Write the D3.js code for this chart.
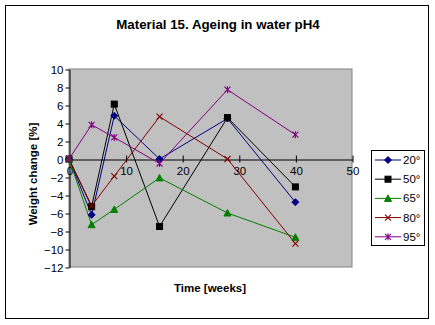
<!DOCTYPE html>
<html>
<head>
<meta charset="utf-8">
<script src="https://cdn.jsdelivr.net/npm/d3@7/dist/d3.min.js"></script>
<style>
  html, body { margin: 0; padding: 0; background: #fff; }
  svg { display: block; font-family: Arial, "Liberation Sans", sans-serif; }
</style>
</head>
<body>
<svg id="chart" width="435" height="325"></svg>
<script>
// Weeks of immersion
const weeks = [0, 4, 8, 16, 28, 40];

// Weight change [%] per ageing temperature
const series20 = [0, -6.2, 4.8, 0, 4.5, -4.8];
const series50 = [0, -5.3, 6.1, -7.5, 4.6, -3.1];
const series65 = [0, -7.3, -5.6, -2.1, -6.0, -8.7];
const series80 = [0, -5.2, -1.9, 4.7, 0, -9.4];
const series95 = [0, 3.8, 2.4, -0.5, 7.7, 2.7];

const seriesNames = ["20°", "50°", "65°", "80°", "95°"];
const xTicks = [0, 10, 20, 30, 40, 50];
const yTicks = [10, 8, 6, 4, 2, 0, -2, -4, -6, -8, -10, -12];

const seriesList = [
  { name: seriesNames[0], values: series20, color: "#000080", marker: "diamond" },
  { name: seriesNames[1], values: series50, color: "#000000", marker: "square" },
  { name: seriesNames[2], values: series65, color: "#008000", marker: "triangle" },
  { name: seriesNames[3], values: series80, color: "#800000", marker: "cross" },
  { name: seriesNames[4], values: series95, color: "#800080", marker: "star" }
];

const svg = d3.select("#chart");

// Chart frame
svg.append("rect")
  .attr("x", 5.5).attr("y", 5.5).attr("width", 423).attr("height", 313)
  .attr("fill", "#fff").attr("stroke", "#000").attr("stroke-width", 1);

svg.append("text")
  .attr("x", 218).attr("y", 29)
  .attr("text-anchor", "middle")
  .attr("font-size", 13.3).attr("font-weight", "bold")
  .text("Material 15. Ageing in water pH4");

const plot = { left: 69, right: 352, top: 69, bottom: 267 };

const x = d3.scaleLinear().domain([0, 50]).range([plot.left, plot.right]);
const y = d3.scaleLinear().domain([-12, 10]).range([plot.bottom, plot.top]);

// Plot area
svg.append("rect")
  .attr("x", plot.left).attr("y", plot.top)
  .attr("width", plot.right - plot.left).attr("height", plot.bottom - plot.top)
  .attr("fill", "#c0c0c0").attr("stroke", "#808080").attr("stroke-width", 1);

// Y axis on the left edge
const yAxis = d3.axisLeft(y).tickValues(yTicks).tickSize(4).tickPadding(2).tickSizeOuter(0);
const gy = svg.append("g")
  .attr("transform", `translate(${plot.left + 0.5},0.5)`)
  .call(yAxis);
gy.selectAll("text").attr("font-size", 11.5).attr("font-family", "Arial, 'Liberation Sans', sans-serif").attr("fill", "#000");
gy.selectAll("line, path").attr("stroke", "#000");

// X axis along the zero line, ticks crossing it
const xAxis = d3.axisBottom(x).tickValues(xTicks).tickSize(0).tickPadding(7).tickSizeOuter(0);
const gx = svg.append("g")
  .attr("transform", `translate(0.5,${y(0) + 0.5})`)
  .call(xAxis);
gx.select("path").attr("stroke", "#000");
gx.selectAll(".tick line").attr("y1", -4).attr("y2", 3).attr("stroke", "#000");
gx.selectAll("text").attr("font-size", 11.5).attr("font-family", "Arial, 'Liberation Sans', sans-serif").attr("fill", "#000");

// Axis titles
svg.append("text")
  .attr("transform", `translate(37,${(plot.top + plot.bottom) / 2 + 6}) rotate(-90)`)
  .attr("text-anchor", "middle")
  .attr("font-size", 11.5).attr("font-weight", "bold")
  .text("Weight change [%]");

svg.append("text")
  .attr("x", 210).attr("y", 292)
  .attr("text-anchor", "middle")
  .attr("font-size", 11.5).attr("font-weight", "bold")
  .text("Time [weeks]");

// Marker drawing
function drawMarker(g, type, color, cx, cy) {
  if (type === "diamond") {
    g.append("path").attr("d", `M${cx},${cy - 3.5}L${cx + 3.5},${cy}L${cx},${cy + 3.5}L${cx - 3.5},${cy}Z`)
      .attr("fill", color).attr("stroke", color);
  } else if (type === "square") {
    g.append("rect").attr("x", cx - 3).attr("y", cy - 3).attr("width", 6).attr("height", 6)
      .attr("fill", color).attr("stroke", color);
  } else if (type === "triangle") {
    g.append("path").attr("d", `M${cx},${cy - 3.5}L${cx + 3.5},${cy + 3}L${cx - 3.5},${cy + 3}Z`)
      .attr("fill", color).attr("stroke", color);
  } else if (type === "cross") {
    g.append("path").attr("d", `M${cx - 3},${cy - 3}L${cx + 3},${cy + 3}M${cx + 3},${cy - 3}L${cx - 3},${cy + 3}`)
      .attr("stroke", color).attr("stroke-width", 1.1).attr("fill", "none");
  } else if (type === "star") {
    g.append("path").attr("d", `M${cx - 3},${cy - 3}L${cx + 3},${cy + 3}M${cx + 3},${cy - 3}L${cx - 3},${cy + 3}M${cx},${cy - 3.5}L${cx},${cy + 3.5}`)
      .attr("stroke", color).attr("stroke-width", 1.1).attr("fill", "none");
  }
}

const line = d3.line().x(d => x(d[0])).y(d => y(d[1]));

const gSeries = svg.append("g");
seriesList.forEach(s => {
  const pts = weeks.map((w, i) => [w, s.values[i]]);
  gSeries.append("path")
    .attr("d", line(pts))
    .attr("fill", "none").attr("stroke", s.color).attr("stroke-width", 1);
});
seriesList.forEach(s => {
  const gm = gSeries.append("g");
  weeks.forEach((w, i) => drawMarker(gm, s.marker, s.color, x(w), y(s.values[i])));
});

// Legend
const legend = svg.append("g");
legend.append("rect")
  .attr("x", 371.5).attr("y", 150.5).attr("width", 53).attr("height", 95)
  .attr("fill", "#fff").attr("stroke", "#000");
seriesList.forEach((s, i) => {
  const ly = 160 + i * 19.2;
  legend.append("line")
    .attr("x1", 375).attr("x2", 401).attr("y1", ly).attr("y2", ly)
    .attr("stroke", s.color).attr("stroke-width", 1);
  drawMarker(legend, s.marker, s.color, 388, ly);
  legend.append("text")
    .attr("x", 403).attr("y", ly + 4)
    .attr("font-size", 11.5)
    .text(s.name);
});
</script>
</body>
</html>
